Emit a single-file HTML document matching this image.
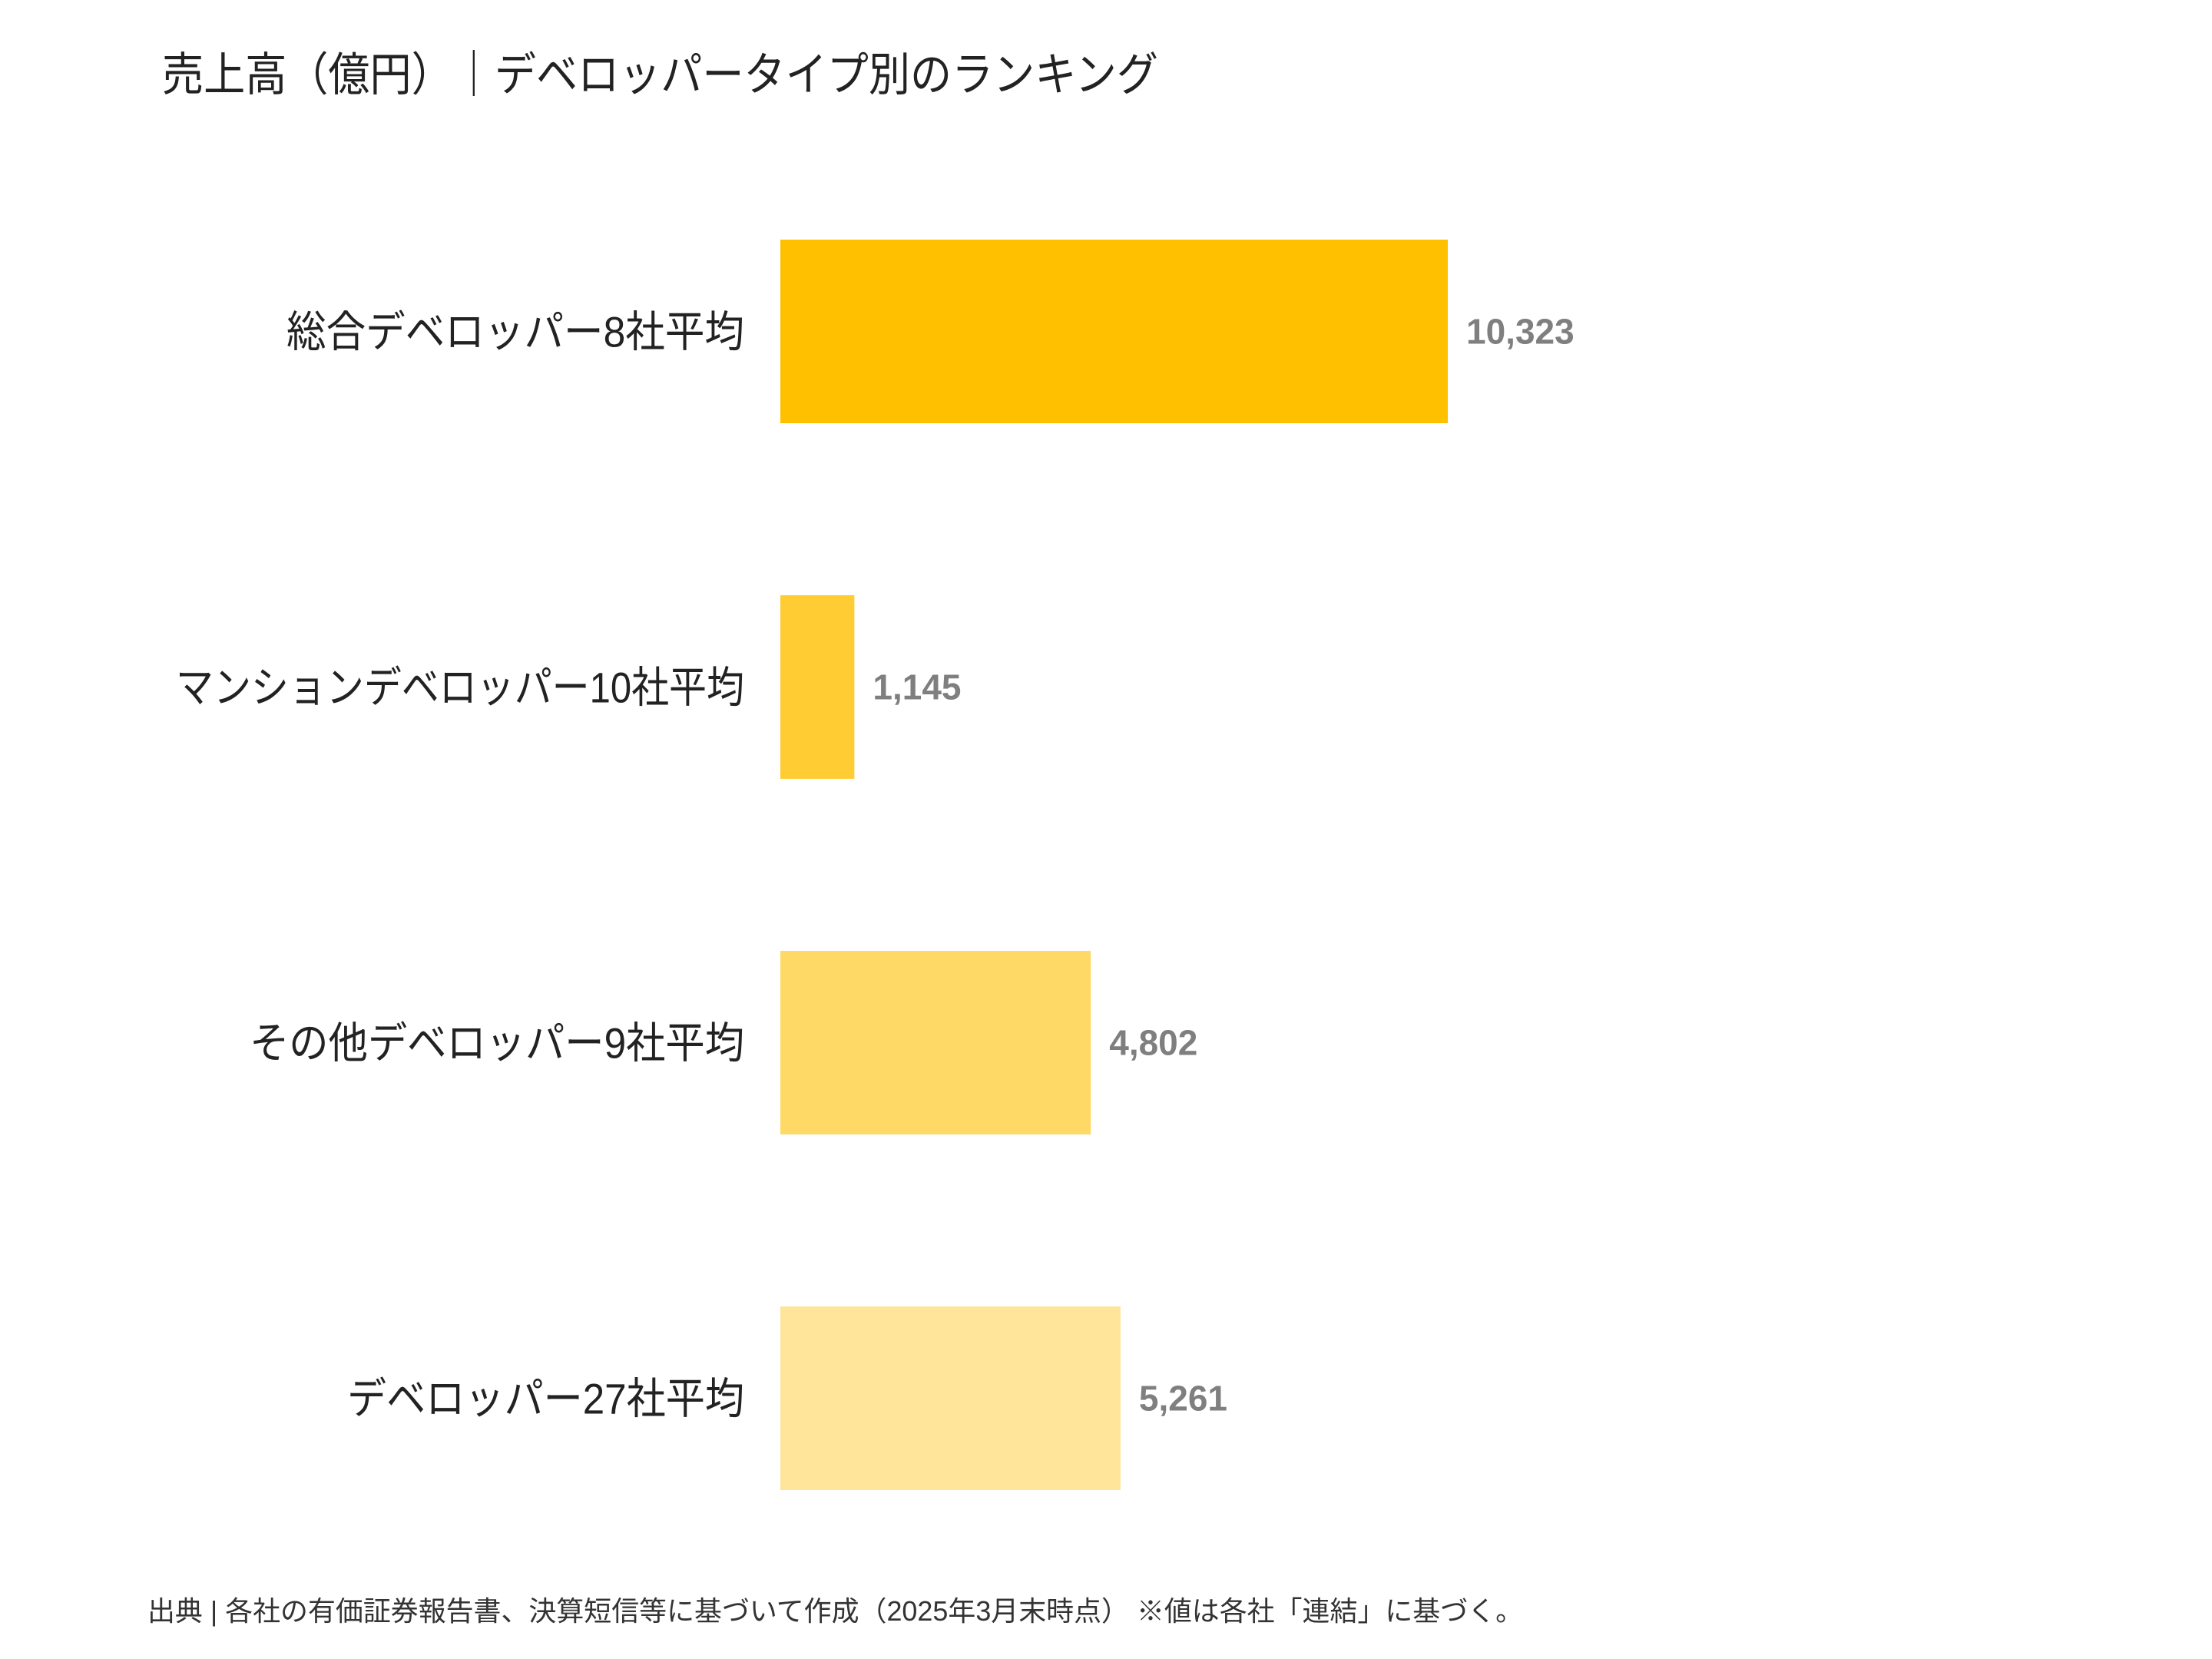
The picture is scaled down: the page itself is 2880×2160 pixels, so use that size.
<!DOCTYPE html>
<html><head><meta charset="utf-8">
<style>
html,body{margin:0;padding:0;background:#fff;}
svg{display:block;}
text{font-family:"Liberation Sans","Noto Sans CJK JP",sans-serif;}
</style></head>
<body>
<svg id="chart" width="2880" height="2160" viewBox="0 0 2880 2160" xmlns="http://www.w3.org/2000/svg">
<text x="211" y="118" font-size="60" fill="#222" textLength="1297" lengthAdjust="spacingAndGlyphs">売上高（億円）｜デベロッパータイプ別のランキング</text>
<g id="bars"></g>
<text x="192" y="2110" font-size="36" fill="#333" textLength="1791" lengthAdjust="spacingAndGlyphs">出典 | 各社の有価証券報告書、決算短信等に基づいて作成（2025年3月末時点） ※値は各社「連結」に基づく。</text>
</svg>
<script>
const categories = ["総合デベロッパー8社平均","マンションデベロッパー10社平均","その他デベロッパー9社平均","デベロッパー27社平均"];
const values = [10323, 1145, 4802, 5261];
const valueLabels = ["10,323","1,145","4,802","5,261"];

const colors = ["#FFC000","#FFCD33","#FFD966","#FFE599"];
const labelWidths = [596, 740, 644, 517];
const x0 = 1016, pxPerUnit = 869/10323;
const yTop = 312, step = 463, barH = 239;
const xScale = v => x0 + v * pxPerUnit;
const yScale = i => yTop + i * step;
const NS = "http://www.w3.org/2000/svg";
const g = document.getElementById("bars");
categories.forEach((c, i) => {
  const y = yScale(i);
  const r = document.createElementNS(NS, "rect");
  r.setAttribute("x", x0);
  r.setAttribute("y", y);
  r.setAttribute("width", xScale(values[i]) - x0);
  r.setAttribute("height", barH);
  r.setAttribute("fill", colors[i]);
  
  
  g.appendChild(r);
  const t = document.createElementNS(NS, "text");
  t.setAttribute("x", 969);
  t.setAttribute("y", y + barH / 2 + 20);
  t.setAttribute("text-anchor", "end");
  t.setAttribute("font-size", "56");
  t.setAttribute("fill", "#222");
  t.setAttribute("textLength", labelWidths[i]);
  t.setAttribute("lengthAdjust", "spacingAndGlyphs");
  t.textContent = c;
  
  
  g.appendChild(t);
  const v = document.createElementNS(NS, "text");
  v.setAttribute("x", xScale(values[i]) + 24);
  v.setAttribute("y", y + barH / 2 + 16);
  v.setAttribute("font-size", "46");
  v.setAttribute("font-weight", "bold");
  v.setAttribute("fill", "#7f7f7f");
  v.textContent = valueLabels[i];
  
  
  g.appendChild(v);
});
</script>
</body></html>
